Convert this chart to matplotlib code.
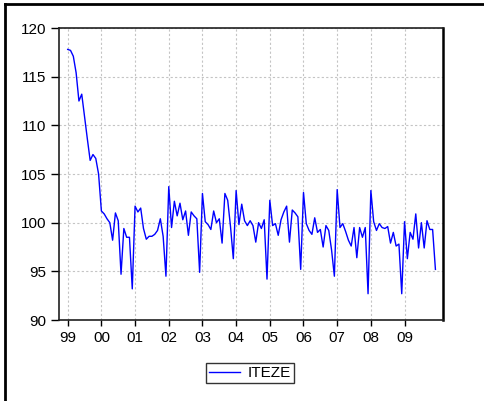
"""
Monthly ITEZE index, 1999-2009, drawn in the style of an EViews line graph.
"""

import numpy as np
import matplotlib.pyplot as plt
from matplotlib.lines import Line2D

plt.rcParams["font.family"] = ["Liberation Sans", "DejaVu Sans"]

# monthly values, Jan 1999 .. Dec 2009
iteze = [
    117.8, 117.7, 117.1, 115.4, 112.5, 113.2, 110.9, 108.6, 106.4, 107.0, 106.6, 105.0,
    101.2, 100.9, 100.4, 100.0, 98.2, 101.0, 100.2, 94.7, 99.4, 98.5, 98.5, 93.2,
    101.7, 101.1, 101.5, 99.4, 98.3, 98.6, 98.6, 98.8, 99.2, 100.4, 98.6, 94.5,
    103.7, 99.5, 102.2, 100.7, 102.0, 100.3, 101.2, 98.7, 101.1, 100.7, 100.4, 94.9,
    103.0, 100.1, 99.8, 99.3, 101.2, 100.0, 100.4, 97.9, 103.0, 102.3, 99.6, 96.3,
    103.3, 99.8, 101.9, 100.2, 99.7, 100.2, 99.7, 98.0, 100.0, 99.4, 100.3, 94.2,
    102.3, 99.7, 99.9, 98.7, 100.3, 101.1, 101.7, 98.0, 101.3, 101.0, 100.6, 95.2,
    103.1, 99.9, 99.2, 98.8, 100.5, 99.0, 99.3, 97.5, 99.7, 99.2, 97.2, 94.5,
    103.4, 99.5, 99.9, 99.1, 98.2, 97.6, 99.5, 96.4, 99.5, 98.5, 99.5, 92.7,
    103.3, 100.1, 99.2, 99.9, 99.5, 99.4, 99.6, 97.9, 99.0, 97.6, 97.8, 92.7,
    100.1, 96.3, 99.0, 98.3, 100.9, 97.4, 100.0, 97.4, 100.2, 99.3, 99.3, 95.2,
]
year_labels = ["99", "00", "01", "02", "03", "04", "05", "06", "07", "08", "09"]
y_ticks = [90, 95, 100, 105, 110, 115, 120]


def main():
    fig = plt.figure(figsize=(4.85, 4.01), dpi=100)
    ax = fig.add_axes([59 / 485, 81 / 401, 384 / 485, 292 / 401])

    months = np.arange(len(iteze))
    ax.plot(months, iteze, color="#0000ff", lw=1.0, label="ITEZE")

    ax.set_xlim(-3.1, 133.7)
    ax.set_ylim(90, 120)
    ax.set_xticks(np.arange(len(year_labels)) * 12)
    ax.set_xticklabels(year_labels)
    ax.set_yticks(y_ticks)

    ax.grid(True, color="#c4c4c4", lw=0.8, linestyle=(0, (2, 2)))
    ax.tick_params(axis="both", labelsize=11, colors="black", direction="out")
    ax.tick_params(axis="y", length=6, width=1, pad=3)
    ax.tick_params(axis="x", length=4, width=1, pad=4)

    for side in ["left", "bottom", "top"]:
        ax.spines[side].set_linewidth(1.2)
        ax.spines[side].set_color("#202020")
    ax.spines["right"].set_linewidth(1.8)
    ax.spines["right"].set_color("black")

    leg = fig.legend(
        loc="center",
        bbox_to_anchor=(250 / 485, 1 - 373 / 401),
        fontsize=11,
        frameon=True,
        fancybox=False,
        handlelength=2.0,
        borderpad=0.2,
        handletextpad=0.5,
    )
    leg.get_frame().set_edgecolor("black")
    leg.get_frame().set_linewidth(1.0)

    # outer frame of the original screenshot
    fig.add_artist(Line2D([5 / 485, 1.0], [1 - 4 / 401, 1 - 4 / 401],
                          transform=fig.transFigure, color="black", lw=2))
    fig.add_artist(Line2D([5 / 485, 5 / 485], [0.0, 1 - 4 / 401],
                          transform=fig.transFigure, color="black", lw=2))

    fig.savefig("out.png", dpi=100)


if __name__ == "__main__":
    main()
